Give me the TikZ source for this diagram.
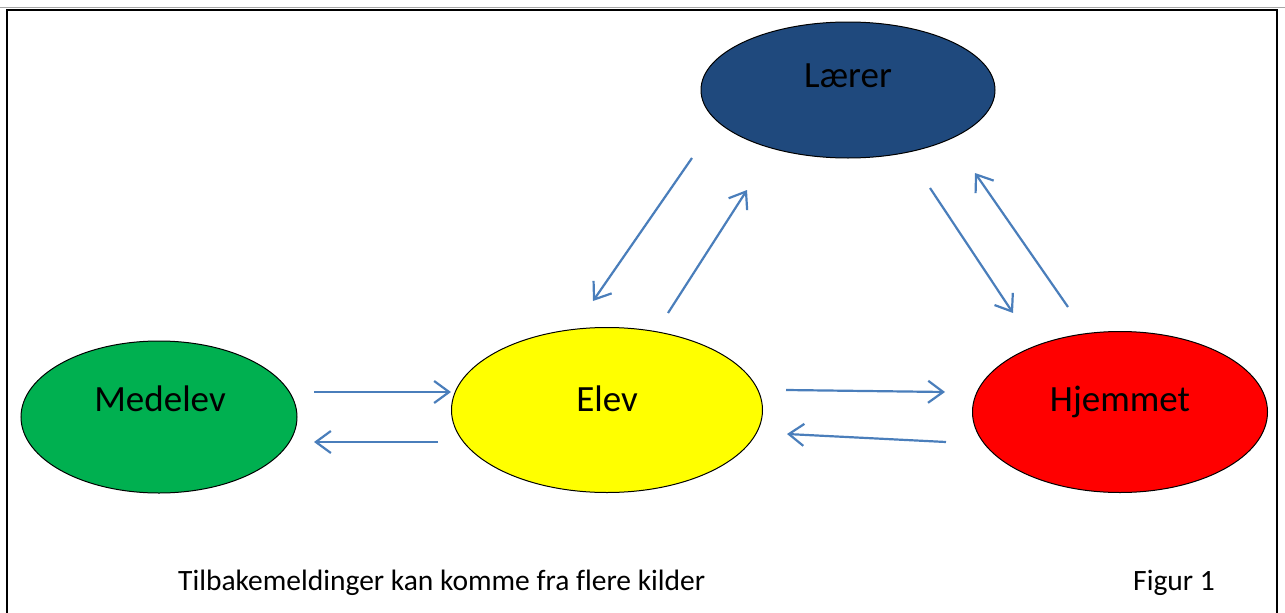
\documentclass[tikz,border=0pt]{standalone}
\usepackage{fontspec}
\setmainfont{Carlito}[Ligatures={NoCommon}]
\usetikzlibrary{shapes.geometric,arrows.meta}

\definecolor{arrowblue}{HTML}{4A7EBB}
\definecolor{teacherblue}{HTML}{1F497D}
\definecolor{peergreen}{HTML}{00B050}
\definecolor{pupilyellow}{HTML}{FFFF00}
\definecolor{homered}{HTML}{FF0000}

\tikzset{
  bubble/.style={ellipse, draw=black, line width=1pt, inner sep=0pt},
  bubbletext/.style={anchor=base, inner sep=0pt, font=\fontsize{37}{42}\selectfont},
  feedback/.style={draw=arrowblue, line width=2.2pt,
    -{Straight Barb[length=15pt, width=22pt, line width=2.2pt]}},
  caption/.style={anchor=base west, inner sep=0pt, font=\fontsize{29.5}{34}\selectfont}
}

\begin{document}
\begin{tikzpicture}[x=1pt, y=-1pt]
  \useasboundingbox (0,0) rectangle (1285,613);

  % outer frame, running off the lower edge
  \begin{scope}
    \clip (0,0) rectangle (1285,613);
    \draw[gray!70, line width=1pt] (0,7.5) -- (1285,7.5);
    \draw[black, line width=2.5pt] (7,640) -- (7,10) -- (1277,10) -- (1277,640);
  \end{scope}

  % the four sources of feedback
  \node[bubble, fill=teacherblue, minimum width=294pt, minimum height=136pt] (laerer) at (848,90) {};
  \node[bubble, fill=peergreen, minimum width=276pt, minimum height=152pt] (medelev) at (159,417) {};
  \node[bubble, fill=pupilyellow, minimum width=311pt, minimum height=165pt] (elev) at (607,410) {};
  \node[bubble, fill=homered, minimum width=295pt, minimum height=161pt] (hjemmet) at (1120,412) {};

  \node[bubbletext] (laerer-t) at (848,87) {Lærer};
  \node[bubbletext] (medelev-t) at (160,411) {Medelev};
  \node[bubbletext] (elev-t) at (607,411) {Elev};
  \node[bubbletext] (hjemmet-t) at (1120,411) {Hjemmet};

  % arrow end points
  \coordinate (me-a) at (314,392);  \coordinate (me-b) at (451,392);
  \coordinate (em-a) at (438,442);  \coordinate (em-b) at (314,442);
  \coordinate (eh-a) at (786,390);  \coordinate (eh-b) at (945,392);
  \coordinate (he-a) at (946,442);  \coordinate (he-b) at (787,434);
  \coordinate (le-a) at (692,158);  \coordinate (le-b) at (593,301);
  \coordinate (el-a) at (668,313);  \coordinate (el-b) at (747,190);
  \coordinate (lh-a) at (930,188);  \coordinate (lh-b) at (1013,313);
  \coordinate (hl-a) at (1068,307); \coordinate (hl-b) at (975,173);

  \draw[feedback] (me-a) -- (me-b);
  \draw[feedback] (em-a) -- (em-b);
  \draw[feedback] (eh-a) -- (eh-b);
  \draw[feedback] (he-a) -- (he-b);
  \draw[feedback] (le-a) -- (le-b);
  \draw[feedback] (el-a) -- (el-b);
  \draw[feedback] (lh-a) -- (lh-b);
  \draw[feedback] (hl-a) -- (hl-b);

  % captions
  \node[caption] (note) at (178,590) {Tilbakemeldinger kan komme fra flere kilder};
  \node[caption] (fig) at (1133,590) {Figur 1};
\end{tikzpicture}
\end{document}
